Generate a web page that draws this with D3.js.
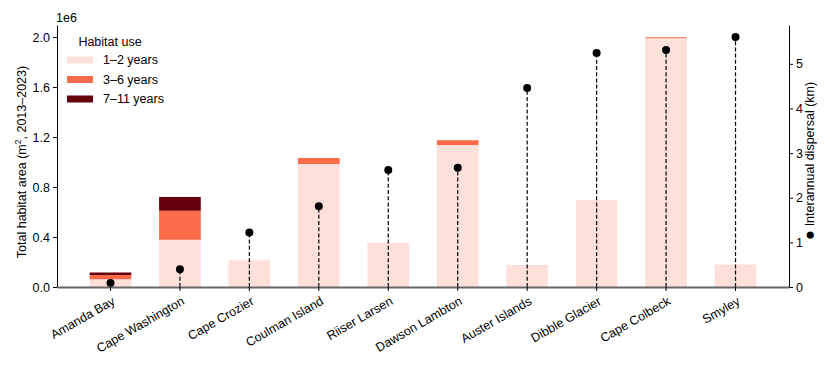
<!DOCTYPE html>
<html>
<head>
<meta charset="utf-8">
<script src="https://cdn.jsdelivr.net/npm/d3@7"></script>
<style>
  body { margin: 0; background: #fff; }
  svg text { font-family: "Liberation Sans", Arial, sans-serif; fill: #000; }
</style>
</head>
<body>
<div id="chart"></div>
<script>
// data
const colonies = ["Amanda Bay", "Cape Washington", "Cape Crozier", "Coulman Island", "Riiser Larsen",
  "Dawson Lambton", "Auster Islands", "Dibble Glacier", "Cape Colbeck", "Smyley"];
const use12 = [0.062, 0.378, 0.213, 0.984, 0.355, 1.136, 0.176, 0.696, 1.990, 0.180];   // x1e6 m2
const use36 = [0.034, 0.232, 0, 0.048, 0, 0.038, 0, 0, 0.008, 0];
const use711 = [0.020, 0.110, 0, 0, 0, 0, 0, 0, 0, 0];
const dispersal = [0.09, 0.40, 1.22, 1.81, 2.62, 2.67, 4.46, 5.24, 5.31, 5.60]; // km
const habitatLabels = ["1\u20132 years", "3\u20136 years", "7\u201311 years"];
const habitatColors = ["#fee0da", "#fb6a4a", "#67000d"];
const leftTicks = [0, 0.4, 0.8, 1.2, 1.6, 2.0];
const rightTicks = [0, 1, 2, 3, 4, 5];

const width = 832, height = 370;
const margin = { top: 25, right: 43, bottom: 83, left: 57 };

const svg = d3.select("#chart").append("svg")
  .attr("width", width).attr("height", height);

const x = d3.scaleBand()
  .domain(colonies)
  .range([margin.left, width - margin.right])
  .paddingInner(0.4)
  .paddingOuter(0.47);

const y = d3.scaleLinear().domain([0, 2.096]).range([height - margin.bottom, margin.top]);
const y2 = d3.scaleLinear().domain([0, 5.87]).range([height - margin.bottom, margin.top]);

// stacked bars
const rows = colonies.map((c, i) => ({ colony: c, a: use12[i], b: use36[i], c: use711[i] }));
const stacked = d3.stack().keys(["a", "b", "c"])(rows);

svg.append("g").selectAll("g")
  .data(stacked)
  .join("g")
  .attr("fill", (d, i) => habitatColors[i])
  .selectAll("rect")
  .data(d => d)
  .join("rect")
  .attr("x", d => x(d.data.colony))
  .attr("width", x.bandwidth())
  .attr("y", d => y(d[1]))
  .attr("height", d => y(d[0]) - y(d[1]));

// dispersal stems and dots
const cx = c => x(c) + x.bandwidth() / 2;
svg.append("g").selectAll("line")
  .data(colonies)
  .join("line")
  .attr("x1", cx).attr("x2", cx)
  .attr("y1", y2(0))
  .attr("y2", (d, i) => y2(dispersal[i]))
  .attr("stroke", "#000")
  .attr("stroke-width", 1.2)
  .attr("stroke-dasharray", "4,2.2");

svg.append("g").selectAll("circle")
  .data(colonies)
  .join("circle")
  .attr("cx", cx)
  .attr("cy", (d, i) => y2(dispersal[i]))
  .attr("r", 4)
  .attr("fill", "#000");

// axes
const yAxis = svg.append("g")
  .attr("transform", `translate(${margin.left},0)`)
  .call(d3.axisLeft(y).tickValues(leftTicks).tickFormat(d3.format(".1f")).tickSize(4).tickSizeOuter(0));
yAxis.selectAll("text").attr("font-size", 12.5);

const yAxis2 = svg.append("g")
  .attr("transform", `translate(${width - margin.right},0)`)
  .call(d3.axisRight(y2).tickValues(rightTicks).tickFormat(d3.format("d")).tickSize(4).tickSizeOuter(0));
yAxis2.selectAll("text").attr("font-size", 12.5);

const xAxis = svg.append("g")
  .attr("transform", `translate(0,${height - margin.bottom})`)
  .call(d3.axisBottom(x).tickSize(4).tickSizeOuter(0));
xAxis.select(".domain").attr("stroke", "#666").attr("stroke-width", 2);
xAxis.selectAll("text").remove();

[yAxis, yAxis2, xAxis].forEach(g => g.attr("font-family", null));

// rotated category labels
svg.append("g").selectAll("text")
  .data(colonies)
  .join("text")
  .attr("transform", d => `translate(${cx(d) + 1},${height - margin.bottom + 9}) rotate(-30)`)
  .attr("text-anchor", "end")
  .attr("dy", "0.7em")
  .attr("font-size", 12.5)
  .text(d => d);

svg.append("text")
  .attr("x", margin.left - 1).attr("y", 22)
  .attr("font-size", 12.5)
  .text("1e6");

// axis titles
const ylab = svg.append("text")
  .attr("transform", `translate(26,${(y(0) + y(2.0)) / 2}) rotate(-90)`)
  .attr("text-anchor", "middle")
  .attr("font-size", 12.5);
ylab.append("tspan").text("Total habitat area (m");
ylab.append("tspan").attr("font-size", 8.5).attr("dy", -5).text("2");
ylab.append("tspan").attr("dy", 5).text(", 2013\u20132023)");

const rlab = svg.append("text")
  .attr("transform", `translate(814,161) rotate(-90)`)
  .attr("text-anchor", "middle")
  .attr("font-size", 12.5);
rlab.append("tspan").attr("font-size", 17).attr("dy", "0.08em").text("\u25CF");
rlab.append("tspan").attr("dy", "-0.08em").text(" Interannual dispersal (km)");

// legend
const legend = svg.append("g").attr("transform", "translate(67,0)");
legend.append("text")
  .attr("x", 43).attr("y", 46)
  .attr("text-anchor", "middle")
  .attr("font-size", 12.5)
  .text("Habitat use");
habitatLabels.forEach((lab, i) => {
  const yy = 60 + i * 19.5;
  legend.append("rect")
    .attr("x", 0).attr("y", yy - 3.5)
    .attr("width", 26).attr("height", 7)
    .attr("fill", habitatColors[i]);
  legend.append("text")
    .attr("x", 36).attr("y", yy)
    .attr("dy", "0.35em")
    .attr("font-size", 12.5)
    .text(lab);
});
</script>
</body>
</html>
